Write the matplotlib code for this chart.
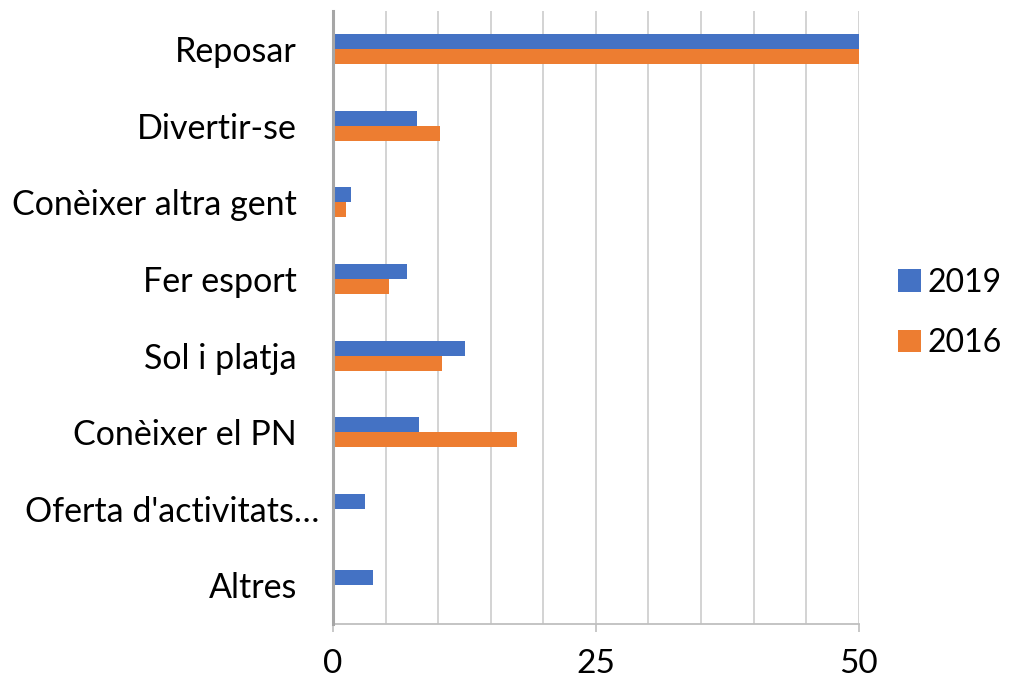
import matplotlib.pyplot as plt
import matplotlib.transforms as mtransforms
import numpy as np

categories = ['Reposar', 'Divertir-se', 'Conèixer altra gent', 'Fer esport',
              'Sol i platja', 'Conèixer el PN', "Oferta d'activitats…", 'Altres']
vals_2019 = [55.0, 8.0, 1.7, 7.0, 12.6, 8.2, 3.0, 3.8]
vals_2016 = [55.0, 10.2, 1.2, 5.3, 10.4, 17.5, 0.0, 0.0]

blue = '#4472c4'
orange = '#ed7d31'

plt.rcParams['font.family'] = ['Lato', 'DejaVu Sans']


def plot():
    fig = plt.figure(figsize=(10.09, 6.78), dpi=100)
    ax = fig.add_axes([0.330, 0.080, 0.521, 0.904])

    y = np.arange(len(categories))
    h = 0.196
    ax.barh(y - h / 2, vals_2019, height=h, color=blue, label='2019', zorder=3)
    ax.barh(y + h / 2, vals_2016, height=h, color=orange, label='2016', zorder=3)

    ax.set_xlim(0, 50)
    ax.set_ylim(len(categories) - 0.5, -0.5)
    ax.set_yticks(y)
    ax.set_yticklabels(categories, fontsize=24.5)
    ax.tick_params(axis='y', length=0, pad=26)
    # truncated label sits further right, like in the original
    lab = ax.get_yticklabels()[6]
    lab.set_transform(lab.get_transform() +
                      mtransforms.ScaledTranslation(0.23, 0, fig.dpi_scale_trans))

    ax.set_xticks([0, 25, 50])
    ax.set_xticks(np.arange(0, 51, 5), minor=True)
    ax.tick_params(axis='x', which='major', length=6, width=1.2,
                   color='#bfbfbf', labelsize=24, pad=12)
    ax.tick_params(axis='x', which='minor', length=0)
    ax.grid(axis='x', which='both', color='#d0d0d0', linewidth=1.3, zorder=0)

    for s in ['top', 'right']:
        ax.spines[s].set_visible(False)
    ax.spines['left'].set_color('#a6a6a6')
    ax.spines['left'].set_linewidth(2.2)
    ax.spines['left'].set_zorder(4)
    ax.spines['bottom'].set_color('#bfbfbf')
    ax.spines['bottom'].set_linewidth(1.3)

    ax.legend(loc='center left', bbox_to_anchor=(1.02, 0.507), frameon=False,
              fontsize=23, handlelength=0.72, handleheight=0.72,
              handletextpad=0.2, labelspacing=0.95)
    return fig


if __name__ == '__main__':
    fig = plot()
    fig.savefig('out.png', dpi=100)
